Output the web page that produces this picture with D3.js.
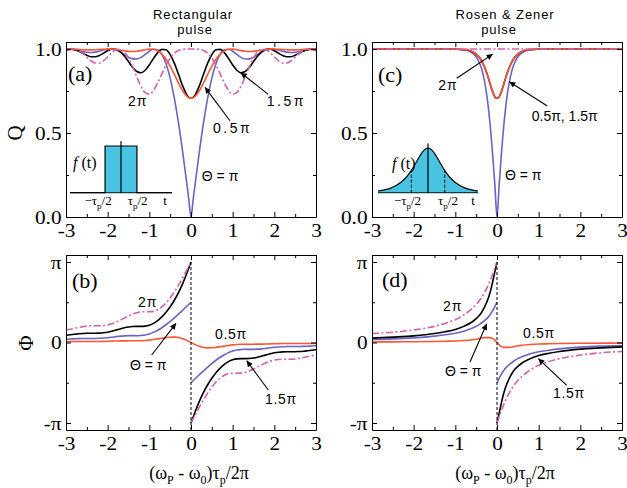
<!DOCTYPE html>
<html>
<head>
<meta charset="utf-8">
<script src="https://cdn.jsdelivr.net/npm/d3@7"></script>
<style>
html,body{margin:0;padding:0;background:#fff;}
svg{display:block;}
</style>
</head>
<body>
<svg id="chart" width="627" height="488"></svg>
<script>
// ================= DATA =================
const xTickVals = [-3,-2,-1,0,1,2,3];
const xMinorVals = [-2.5,-1.5,-0.5,0.5,1.5,2.5];
const qTickVals = [0,0.5,1];
const qTickText = ["0.0","0.5","1.0"];
const qMinorVals = [0.25,0.75];
const phiTickVals = [-Math.PI,0,Math.PI];
const phiTickText = ["-π","0","π"];
const phiMinorVals = [-Math.PI/2, Math.PI/2];

// ---- rectangular pulse, transmission Q (panel a) ----
const xRect = [-3,-2.9,-2.8,-2.7,-2.6,-2.5,-2.4,-2.3,-2.2,-2.1,-2,-1.9,-1.8,-1.7,-1.6,-1.5,-1.4,-1.3,-1.2,-1.1,-1,-0.9,-0.8,-0.7,-0.6,-0.5,-0.4,-0.3,-0.2,-0.1,-0.05,0,0.05,0.1,0.2,0.3,0.4,0.5,0.6,0.7,0.8,0.9,1,1.1,1.2,1.3,1.4,1.5,1.6,1.7,1.8,1.9,2,2.1,2.2,2.3,2.4,2.5,2.6,2.7,2.8,2.9,3];
const qRectHalf = [1.0000,0.9997,0.9988,0.9974,0.9960,0.9950,0.9950,0.9959,0.9975,0.9991,1.0000,0.9994,0.9972,0.9936,0.9896,0.9864,0.9853,0.9870,0.9911,0.9962,0.9997,0.9985,0.9893,0.9700,0.9395,0.8982,0.8493,0.7981,0.7515,0.7190,0.7102,0.7071,0.7102,0.7190,0.7515,0.7981,0.8493,0.8982,0.9395,0.9700,0.9893,0.9985,0.9997,0.9962,0.9911,0.9870,0.9853,0.9864,0.9896,0.9936,0.9972,0.9994,1.0000,0.9991,0.9975,0.9959,0.9950,0.9950,0.9960,0.9974,0.9988,0.9997,1.0000];
const qRectPi = [0.9998,0.9995,0.9966,0.9915,0.9856,0.9811,0.9795,0.9817,0.9872,0.9938,0.9989,0.9996,0.9942,0.9826,0.9672,0.9518,0.9418,0.9409,0.9503,0.9678,0.9868,0.9990,0.9956,0.9690,0.9137,0.8267,0.708,0.560,0.388,0.1985,0.0998,0,0.0998,0.1985,0.388,0.560,0.708,0.8267,0.9137,0.9690,0.9956,0.9990,0.9868,0.9678,0.9503,0.9409,0.9418,0.9518,0.9672,0.9826,0.9942,0.9996,0.9989,0.9938,0.9872,0.9817,0.9795,0.9811,0.9856,0.9915,0.9966,0.9995,0.9998];
const qRect3Half = [0.9976,1.0000,0.9967,0.9878,0.9752,0.9628,0.9546,0.9539,0.9615,0.9750,0.9894,0.9988,0.9982,0.9847,0.9588,0.9250,0.8909,0.8662,0.8593,0.8740,0.9055,0.9445,0.9789,0.9982,0.9953,0.9670,0.9162,0.8494,0.7808,0.7275,0.7123,0.7071,0.7123,0.7275,0.7808,0.8494,0.9162,0.9670,0.9953,0.9982,0.9789,0.9445,0.9055,0.8740,0.8593,0.8662,0.8909,0.9250,0.9588,0.9847,0.9982,0.9988,0.9894,0.9750,0.9615,0.9539,0.9546,0.9628,0.9752,0.9878,0.9967,1.0000,0.9976];
const qRect2 = [0.9880,0.9976,0.9996,0.9916,0.9747,0.9521,0.9307,0.9171,0.9166,0.9302,0.9533,0.9782,0.9960,0.9990,0.9827,0.9467,0.8946,0.8341,0.7782,0.7405,0.7318,0.7537,0.7981,0.8521,0.9039,0.9461,0.9749,0.9912,0.9981,0.9999,1.0000,1.0000,1.0000,0.9999,0.9981,0.9912,0.9749,0.9461,0.9039,0.8521,0.7981,0.7537,0.7318,0.7405,0.7782,0.8341,0.8946,0.9467,0.9827,0.9990,0.9960,0.9782,0.9533,0.9302,0.9166,0.9171,0.9307,0.9521,0.9747,0.9916,0.9996,0.9976,0.9880];

// ---- rectangular pulse, phase Φ (panel b) ----
const xPhL = [-3,-2.9,-2.8,-2.7,-2.6,-2.5,-2.4,-2.3,-2.2,-2.1,-2,-1.9,-1.8,-1.7,-1.6,-1.5,-1.4,-1.3,-1.2,-1.1,-1,-0.9,-0.8,-0.7,-0.6,-0.5,-0.4,-0.3,-0.2,-0.1,-0.05,0];
const xPhR = [0,0.05,0.1,0.2,0.3,0.4,0.5,0.6,0.7,0.8,0.9,1,1.1,1.2,1.3,1.4,1.5,1.6,1.7,1.8,1.9,2,2.1,2.2,2.3,2.4,2.5,2.6,2.7,2.8,2.9,3];
const phRectHalf = [0.033,0.036,0.038,0.039,0.040,0.040,0.039,0.039,0.041,0.044,0.049,0.054,0.059,0.063,0.063,0.066,0.066,0.067,0.071,0.079,0.094,0.115,0.140,0.166,0.190,0.207,0.209,0.192,0.149,0.083,0.043,0,-0.043,-0.083,-0.149,-0.192,-0.209,-0.207,-0.190,-0.166,-0.140,-0.115,-0.094,-0.079,-0.071,-0.067,-0.066,-0.066,-0.063,-0.063,-0.059,-0.054,-0.049,-0.044,-0.041,-0.039,-0.039,-0.040,-0.040,-0.039,-0.038,-0.036,-0.033];
const phRectPiL = [0.128,0.138,0.146,0.153,0.157,0.159,0.159,0.159,0.163,0.173,0.188,0.207,0.228,0.247,0.260,0.268,0.270,0.266,0.276,0.295,0.335,0.395,0.477,0.577,0.693,0.822,0.962,1.107,1.259,1.414,1.492,1.571];
const phRectPiR = [-1.571,-1.492,-1.414,-1.259,-1.107,-0.962,-0.822,-0.693,-0.577,-0.477,-0.395,-0.335,-0.295,-0.276,-0.266,-0.270,-0.268,-0.260,-0.247,-0.228,-0.207,-0.188,-0.173,-0.163,-0.159,-0.159,-0.159,-0.157,-0.153,-0.146,-0.138,-0.128];
const phRect3HalfL = [0.282,0.300,0.320,0.339,0.351,0.360,0.362,0.362,0.366,0.379,0.403,0.439,0.483,0.530,0.573,0.607,0.626,0.631,0.631,0.639,0.675,0.745,0.853,0.998,1.179,1.395,1.650,1.948,2.298,2.701,2.919,3.1416];
const phRect3HalfR = [-3.1416,-2.919,-2.701,-2.298,-1.948,-1.650,-1.395,-1.179,-0.998,-0.853,-0.745,-0.675,-0.639,-0.631,-0.631,-0.626,-0.607,-0.573,-0.530,-0.483,-0.439,-0.403,-0.379,-0.366,-0.362,-0.362,-0.360,-0.351,-0.339,-0.320,-0.300,-0.282];
const phRect2L = [0.488,0.515,0.549,0.585,0.617,0.641,0.653,0.656,0.655,0.664,0.686,0.729,0.791,0.868,0.950,1.036,1.110,1.163,1.194,1.200,1.199,1.216,1.277,1.387,1.544,1.743,1.976,2.239,2.526,2.829,2.985,3.1416];
const phRect2R = [-3.1416,-2.985,-2.829,-2.526,-2.239,-1.976,-1.743,-1.544,-1.387,-1.277,-1.216,-1.199,-1.200,-1.194,-1.163,-1.110,-1.036,-0.950,-0.868,-0.791,-0.729,-0.686,-0.664,-0.655,-0.656,-0.653,-0.641,-0.617,-0.585,-0.549,-0.515,-0.488];

// ---- Rosen & Zener pulse, transmission Q (panel c) ----
const xRZ = [-3,-2.5,-2,-1.5,-1.2,-1,-0.8,-0.7,-0.6,-0.5,-0.4,-0.35,-0.3,-0.25,-0.2,-0.15,-0.1,-0.05,0,0.05,0.1,0.15,0.2,0.25,0.3,0.35,0.4,0.5,0.6,0.7,0.8,1,1.2,1.5,2,2.5,3];
const qRZPi = [1,1,1,1,1,0.999,0.995,0.990,0.978,0.954,0.905,0.865,0.809,0.734,0.635,0.510,0.358,0.185,0,0.185,0.358,0.510,0.635,0.734,0.809,0.865,0.905,0.954,0.978,0.990,0.995,0.999,1,1,1,1,1];
const qRZHalf = [1,1,1,1,1,0.999,0.997,0.994,0.986,0.970,0.942,0.920,0.893,0.860,0.822,0.780,0.742,0.716,0.707,0.716,0.742,0.780,0.822,0.860,0.893,0.920,0.942,0.970,0.986,0.994,0.997,0.999,1,1,1,1,1];
const qRZ3Half = [1,1,1,1,1,0.999,0.997,0.994,0.986,0.970,0.942,0.920,0.893,0.860,0.822,0.780,0.742,0.716,0.707,0.716,0.742,0.780,0.822,0.860,0.893,0.920,0.942,0.970,0.986,0.994,0.997,0.999,1,1,1,1,1];
const qRZ2 = [1,1,1,1,1,1,1,1,1,1,1,1,1,1,1,1,1,1,1,1,1,1,1,1,1,1,1,1,1,1,1,1,1,1,1,1,1];

// ---- Rosen & Zener pulse, phase Φ (panel d) ----
const xRZL = [-3,-2.5,-2,-1.5,-1.25,-1,-0.8,-0.6,-0.5,-0.4,-0.3,-0.2,-0.15,-0.1,-0.05,-0.025,0];
const xRZR = [0,0.025,0.05,0.1,0.15,0.2,0.3,0.4,0.5,0.6,0.8,1,1.25,1.5,2,2.5,3];
const xRZFull = [-3,-2.5,-2,-1.5,-1.25,-1,-0.8,-0.6,-0.5,-0.4,-0.3,-0.2,-0.15,-0.1,-0.05,-0.025,0,0.025,0.05,0.1,0.15,0.2,0.3,0.4,0.5,0.6,0.8,1,1.25,1.5,2,2.5,3];
const phRZHalf = [0.02,0.025,0.03,0.04,0.05,0.06,0.08,0.11,0.13,0.16,0.19,0.19,0.18,0.15,0.09,0.045,0,-0.045,-0.09,-0.15,-0.18,-0.19,-0.19,-0.16,-0.13,-0.11,-0.08,-0.06,-0.05,-0.04,-0.03,-0.025,-0.02];
const phRZPiL = [0.12,0.14,0.18,0.25,0.30,0.36,0.44,0.56,0.63,0.73,0.85,1.01,1.12,1.25,1.41,1.49,1.571];
const phRZPiR = [-1.571,-1.49,-1.41,-1.25,-1.12,-1.01,-0.85,-0.73,-0.63,-0.56,-0.44,-0.36,-0.30,-0.25,-0.18,-0.14,-0.12];
const phRZ3HalfL = [0.17,0.21,0.26,0.35,0.42,0.51,0.63,0.80,0.93,1.10,1.38,1.78,2.05,2.40,2.77,2.95,3.1416];
const phRZ3HalfR = [-3.1416,-2.95,-2.77,-2.40,-2.05,-1.78,-1.38,-1.10,-0.93,-0.80,-0.63,-0.51,-0.42,-0.35,-0.26,-0.21,-0.17];
const phRZ2L = [0.35,0.40,0.49,0.63,0.74,0.89,1.07,1.32,1.48,1.69,1.95,2.28,2.47,2.68,2.90,3.02,3.1416];
const phRZ2R = [-3.1416,-3.02,-2.90,-2.68,-2.47,-2.28,-1.95,-1.69,-1.48,-1.32,-1.07,-0.89,-0.74,-0.63,-0.49,-0.40,-0.35];

// ---- inset pulse shapes ----
const rectPulseT = [-1.6,-0.5,-0.5,0.5,0.5,1.6];
const rectPulseF = [0,0,1,1,0,0];
const sechPulseT = [-1.5,-1.375,-1.25,-1.125,-1,-0.875,-0.75,-0.625,-0.5,-0.375,-0.25,-0.125,0,0.125,0.25,0.375,0.5,0.625,0.75,0.875,1,1.125,1.25,1.375,1.5];
const sechPulseF = [0.0385,0.0534,0.0742,0.1030,0.1428,0.1976,0.2722,0.3717,0.5,0.6541,0.8165,0.9481,1,0.9481,0.8165,0.6541,0.5,0.3717,0.2722,0.1976,0.1428,0.1030,0.0742,0.0534,0.0385];

// ---- annotations (data coordinates) ----
const annA = [["2π",-1.51,0.661],["0.5π",0.53,0.50],["1.5π",1.82,0.661],["Θ = π",0.26,0.214]];
const arrA = [[0.936,0.573,0.336,0.772],[1.855,0.730,1.193,0.859]];
const annB = [["2π",-1.272,1.386],["Θ = π",-1.464,-1.073],["0.5π",0.576,0.137],["1.5π",1.776,-2.400]];
const arrB = [[-0.943,-0.488,-0.360,0.749],[1.855,-1.854,1.337,-0.710]];
const annC = [["2π",-1.409,0.756],["0.5π, 1.5π",0.833,0.571],["Θ = π",0.192,0.220]];
const arrC = [[-0.967,0.826,-0.103,0.970],[1.207,0.661,0.295,0.805]];
const annD = [["2π",-1.296,1.230],["Θ = π",-1.248,-1.307],["0.5π",0.624,0.176],["1.5π",1.344,-2.166]];
const arrD = [[-0.648,-0.761,-0.247,0.734],[1.673,-1.671,0.991,-0.632]];

// ================= STYLE =================
const C_PI = "#6c63c6", C_HALF = "#ff5533", C_3HALF = "#000000", C_2 = "#d65fae";
const C_FILL = "#48c4e2";
const SERIF = "'Liberation Serif','Times New Roman',serif";
const SANS = "'Liberation Sans',Arial,sans-serif";
const DASHDOT = "7,2.5,2,2.5";

const svg = d3.select("#chart");
const defs = svg.append("defs");
defs.append("marker").attr("id","arrowhead")
  .attr("viewBox","0 0 10 10").attr("refX",10).attr("refY",5)
  .attr("markerUnits","userSpaceOnUse").attr("markerWidth",10).attr("markerHeight",6)
  .attr("orient","auto")
  .append("path").attr("d","M0,0 L10,5 L0,10 z").attr("fill","#000");

function makePanel(id, L, R, T, B, yDomain) {
  const sx = d3.scaleLinear().domain([-3,3]).range([L,R]);
  const sy = d3.scaleLinear().domain(yDomain).range([B,T]);
  defs.append("clipPath").attr("id","clip"+id).append("rect")
    .attr("x",L).attr("y",T).attr("width",R-L).attr("height",B-T);
  const g = svg.append("g");
  const curves = g.append("g").attr("clip-path","url(#clip"+id+")");
  return {sx, sy, g, curves, L, R, T, B};
}

function drawAxes(p, yMajor, yMajorText, yMinor) {
  const g = p.g;
  const style = sel => {
    sel.attr("font-family",SERIF).attr("font-size",19);
    sel.selectAll("path,line").attr("stroke","#000").attr("stroke-width",1);
    sel.selectAll("text").attr("fill","#000").attr("transform","scale(1.12,1)");
  };
  g.append("g").attr("transform",`translate(0,${p.B})`)
    .call(d3.axisBottom(p.sx).tickValues(xTickVals).tickSizeInner(-5).tickSizeOuter(0).tickPadding(7).tickFormat(d=>String(d)))
    .call(style);
  g.append("g").attr("transform",`translate(0,${p.B})`)
    .call(d3.axisBottom(p.sx).tickValues(xMinorVals).tickSizeInner(-3).tickSizeOuter(0).tickFormat(""))
    .call(s=>s.select(".domain").remove()).call(style);
  g.append("g").attr("transform",`translate(0,${p.T})`)
    .call(d3.axisTop(p.sx).tickValues(xTickVals).tickSizeInner(-5).tickSizeOuter(0).tickFormat(""))
    .call(style);
  g.append("g").attr("transform",`translate(0,${p.T})`)
    .call(d3.axisTop(p.sx).tickValues(xMinorVals).tickSizeInner(-3).tickSizeOuter(0).tickFormat(""))
    .call(s=>s.select(".domain").remove()).call(style);
  g.append("g").attr("transform",`translate(${p.L},0)`)
    .call(d3.axisLeft(p.sy).tickValues(yMajor).tickSizeInner(-5).tickSizeOuter(0).tickPadding(4).tickFormat((d,i)=>yMajorText[i]))
    .call(style);
  g.append("g").attr("transform",`translate(${p.L},0)`)
    .call(d3.axisLeft(p.sy).tickValues(yMinor).tickSizeInner(-3).tickSizeOuter(0).tickFormat(""))
    .call(s=>s.select(".domain").remove()).call(style);
  g.append("g").attr("transform",`translate(${p.R},0)`)
    .call(d3.axisRight(p.sy).tickValues(yMajor).tickSizeInner(-5).tickSizeOuter(0).tickFormat(""))
    .call(style);
  g.append("g").attr("transform",`translate(${p.R},0)`)
    .call(d3.axisRight(p.sy).tickValues(yMinor).tickSizeInner(-3).tickSizeOuter(0).tickFormat(""))
    .call(s=>s.select(".domain").remove()).call(style);
}

function curve(p, xs, ys, color, dash) {
  const pts = xs.map((x,i)=>[x,ys[i]]);
  p.curves.append("path").datum(pts)
    .attr("d", d3.line().x(d=>p.sx(d[0])).y(d=>p.sy(d[1])).curve(d3.curveMonotoneX))
    .attr("fill","none").attr("stroke",color).attr("stroke-width",1.6)
    .attr("stroke-dasharray", dash || null).attr("stroke-linejoin","round");
}

function annotate(p, ann, arr, spacing) {
  ann.forEach(a => {
    p.g.append("text").attr("x",p.sx(a[1])).attr("y",p.sy(a[2]))
      .attr("font-family",SANS).attr("font-size",14).attr("fill","#000")
      .attr("letter-spacing", a[0].includes(".") ? spacing : (a[0]==="2π" ? 1 : 0))
      .text(a[0]);
  });
  arr.forEach(a => {
    p.g.append("line").attr("x1",p.sx(a[0])).attr("y1",p.sy(a[1]))
      .attr("x2",p.sx(a[2])).attr("y2",p.sy(a[3]))
      .attr("stroke","#000").attr("stroke-width",1.1)
      .attr("marker-end","url(#arrowhead)");
  });
}

function panelLabel(x, y, txt) {
  svg.append("text").attr("x",x).attr("y",y).attr("font-family",SERIF)
    .attr("font-size",22).attr("fill","#000").text(txt);
}

function subText(sel, parts, size, subSize) {
  parts.forEach((pt, i) => {
    const ts = sel.append("tspan").text(pt[0]);
    if (pt[1]) ts.attr("font-size",subSize).attr("dy", size*0.3);
    else if (i>0 && parts[i-1][1]) ts.attr("dy", -size*0.3);
  });
}

// ================= PANELS =================
const pA = makePanel("A", 66, 316, 42, 217, [0,1.042]);
const pC = makePanel("C", 372, 622, 42, 217, [0,1.042]);
const pB = makePanel("B", 66, 316, 255, 430, [-3.415,3.415]);
const pD = makePanel("D", 372, 622, 255, 430, [-3.415,3.415]);

// ---- insets ----
function inset(p, ts, fs, tDom, xr, yr, curveType, dashedT) {
  const tx = d3.scaleLinear().domain(tDom).range(xr);
  const fy = d3.scaleLinear().domain([0,1]).range(yr);
  const pts = ts.map((t,i)=>[t,fs[i]]);
  const g = p.g.append("g");
  g.append("path").datum(pts)
    .attr("d", d3.area().x(d=>tx(d[0])).y0(fy(0)).y1(d=>fy(d[1])).curve(curveType))
    .attr("fill",C_FILL).attr("stroke","none");
  g.append("line").attr("x1",tx(tDom[0])).attr("x2",tx(tDom[1]))
    .attr("y1",fy(0)).attr("y2",fy(0)).attr("stroke","#1a3a44").attr("stroke-width",1.2);
  g.append("path").datum(pts)
    .attr("d", d3.line().x(d=>tx(d[0])).y(d=>fy(d[1])).curve(curveType))
    .attr("fill","none").attr("stroke","#000").attr("stroke-width",1.2);
  g.append("line").attr("x1",tx(0)).attr("x2",tx(0)).attr("y1",fy(0)).attr("y2",fy(1.1))
    .attr("stroke","#000").attr("stroke-width",1.2);
  if (dashedT) dashedT.forEach(t => {
    g.append("line").attr("x1",tx(t)).attr("x2",tx(t)).attr("y1",fy(0)).attr("y2",fy(0.5))
      .attr("stroke","#000").attr("stroke-width",1).attr("stroke-dasharray","3,2");
  });
  return {tx, fy, g};
}
function insetLabels(ins, fPos, mPos, pPos, tPos, yLab) {
  const ft = ins.g.append("text").attr("x",ins.tx(fPos[0])).attr("y",ins.fy(fPos[1]))
    .attr("font-family",SERIF).attr("font-size",16).attr("fill","#000");
  ft.append("tspan").attr("font-style","italic").text("f");
  ft.append("tspan").text(" (t)");
  const m = ins.g.append("text").attr("x",ins.tx(mPos)).attr("y",ins.fy(yLab))
    .attr("text-anchor","middle").attr("font-family",SERIF).attr("font-size",13).attr("fill","#000");
  subText(m, [["−τ",false],["p",true],["/2",false]], 13, 9);
  const pl = ins.g.append("text").attr("x",ins.tx(pPos)).attr("y",ins.fy(yLab))
    .attr("text-anchor","middle").attr("font-family",SERIF).attr("font-size",13).attr("fill","#000");
  subText(pl, [["τ",false],["p",true],["/2",false]], 13, 9);
  ins.g.append("text").attr("x",ins.tx(tPos)).attr("y",ins.fy(yLab))
    .attr("text-anchor","middle").attr("font-family",SERIF).attr("font-size",13).attr("fill","#000").text("t");
}

// ---- panel (a) ----
curve(pA, xRect, qRectPi, C_PI);
curve(pA, xRect, qRect3Half, C_3HALF);
curve(pA, xRect, qRectHalf, C_HALF);
curve(pA, xRect, qRect2, C_2, DASHDOT);
const insA = inset(pA, rectPulseT, rectPulseF, [-1.6,1.6], [70,172], [192.7,146], d3.curveLinear, null);
insetLabels(insA, [-1.505,0.529], -0.72, 0.52, 1.38, -0.263);
drawAxes(pA, qTickVals, qTickText, qMinorVals);
annotate(pA, annA, arrA, 2.5);

// ---- panel (c) ----
curve(pC, xRZ, qRZPi, C_PI);
curve(pC, xRZ, qRZ3Half, C_3HALF);
curve(pC, xRZ, qRZHalf, C_HALF);
curve(pC, xRZ, qRZ2, C_2, DASHDOT);
const insC = inset(pC, sechPulseT, sechPulseF, [-1.5,1.5], [378,478], [192.7,148], d3.curveMonotoneX, [-0.5,0.5]);
insetLabels(insC, [-1.08,0.529], -0.615, 0.6, 1.35, -0.275);
drawAxes(pC, qTickVals, qTickText, qMinorVals);
annotate(pC, annC, arrC, 0);

// ---- panel (b) ----
curve(pB, xPhL, phRectPiL, C_PI);
curve(pB, xPhR, phRectPiR, C_PI);
curve(pB, xPhL, phRect3HalfL, C_3HALF);
curve(pB, xPhR, phRect3HalfR, C_3HALF);
curve(pB, xRect, phRectHalf, C_HALF);
curve(pB, xPhL, phRect2L, C_2, DASHDOT);
curve(pB, xPhR, phRect2R, C_2, DASHDOT);
pB.g.append("line").attr("x1",pB.sx(0)).attr("x2",pB.sx(0)).attr("y1",pB.sy(Math.PI)).attr("y2",pB.B)
  .attr("stroke","#000").attr("stroke-width",1).attr("stroke-dasharray","3,2");
drawAxes(pB, phiTickVals, phiTickText, phiMinorVals);
annotate(pB, annB, arrB, 0.7);

// ---- panel (d) ----
curve(pD, xRZL, phRZPiL, C_PI);
curve(pD, xRZR, phRZPiR, C_PI);
curve(pD, xRZL, phRZ3HalfL, C_3HALF);
curve(pD, xRZR, phRZ3HalfR, C_3HALF);
curve(pD, xRZFull, phRZHalf, C_HALF);
curve(pD, xRZL, phRZ2L, C_2, DASHDOT);
curve(pD, xRZR, phRZ2R, C_2, DASHDOT);
pD.g.append("line").attr("x1",pD.sx(0)).attr("x2",pD.sx(0)).attr("y1",pD.sy(Math.PI)).attr("y2",pD.B)
  .attr("stroke","#000").attr("stroke-width",1).attr("stroke-dasharray","3,2");
drawAxes(pD, phiTickVals, phiTickText, phiMinorVals);
annotate(pD, annD, arrD, 0.7);

// ---- panel labels ----
panelLabel(68, 81, "(a)");
panelLabel(72, 288, "(b)");
panelLabel(378, 82, "(c)");
panelLabel(382, 287, "(d)");

// ---- titles ----
function title(x, y, txt) {
  svg.append("text").attr("x",x).attr("y",y).attr("text-anchor","middle")
    .attr("font-family",SANS).attr("font-size",13).attr("letter-spacing",0.9)
    .attr("fill","#000").text(txt);
}
title(193, 19, "Rectangular");
title(195, 34, "pulse");
title(505, 19, "Rosen & Zener");
title(499, 34, "pulse");

// ---- y-axis titles ----
svg.append("text").attr("transform","translate(15,133) rotate(-90)")
  .attr("text-anchor","middle").attr("dominant-baseline","central")
  .attr("font-family",SERIF).attr("font-size",21).attr("fill","#000").text("Q");
svg.append("text").attr("transform","translate(26,343) rotate(-90)")
  .attr("text-anchor","middle").attr("dominant-baseline","central")
  .attr("font-family",SERIF).attr("font-size",21).attr("fill","#000").text("Φ");

// ---- x-axis titles ----
function xTitle(cx) {
  const t = svg.append("text").attr("x",cx).attr("y",479).attr("text-anchor","middle")
    .attr("font-family",SERIF).attr("font-size",18).attr("fill","#000");
  subText(t, [["(ω",false],["P",true],[" - ω",false],["0",true],[")τ",false],["p",true],["/2π",false]], 18, 12);
}
xTitle(199);
xTitle(505);
</script>
</body>
</html>
